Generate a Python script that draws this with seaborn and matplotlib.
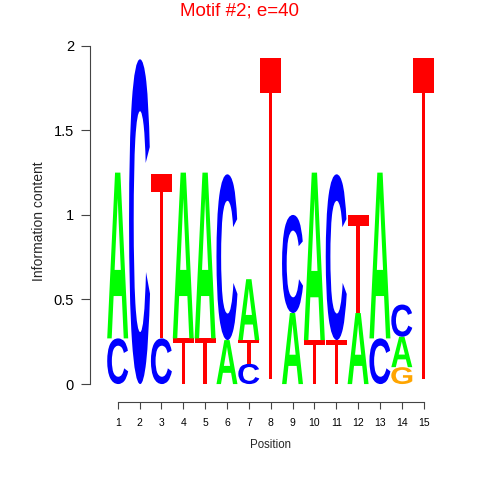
import numpy as np
import pandas as pd
import seaborn as sns
import matplotlib.pyplot as plt
from matplotlib.textpath import TextPath
from matplotlib.patches import PathPatch
from matplotlib.font_manager import FontProperties
from matplotlib.transforms import Affine2D

positions = list(range(1, 16))
height_A = [0.98, 0.00, 0.00, 0.98, 0.98, 0.26, 0.36, 0.01, 0.42, 0.99, 0.00, 0.42, 0.98, 0.18, 0.01]
height_C = [0.27, 1.92, 0.27, 0.00, 0.00, 0.98, 0.12, 0.01, 0.58, 0.00, 0.98, 0.00, 0.27, 0.19, 0.01]
height_G = [0.00, 0.00, 0.00, 0.00, 0.00, 0.00, 0.00, 0.01, 0.00, 0.00, 0.00, 0.00, 0.00, 0.10, 0.01]
height_T = [0.00, 0.00, 0.97, 0.27, 0.27, 0.00, 0.14, 1.90, 0.00, 0.26, 0.26, 0.58, 0.00, 0.00, 1.90]
letter_colors = {"A": "#00FF00", "C": "#0000FF", "G": "#FFA500", "T": "#FF0000"}
y_ticks = [0, 0.5, 1, 1.5, 2]
y_tick_labels = ["0", "0.5", "1", "1.5", "2"]

sns.set_theme(style="ticks")
plt.rcParams["font.family"] = ["Liberation Sans", "DejaVu Sans"]

# Long table, stacked smallest letter at the bottom
df = pd.DataFrame({
    "position": positions * 4,
    "letter": ["A"] * 15 + ["C"] * 15 + ["G"] * 15 + ["T"] * 15,
    "height": height_A + height_C + height_G + height_T,
})
df = df.sort_values(["position", "height"], kind="stable")
df["bottom"] = df.groupby("position")["height"].cumsum() - df["height"]

fig = plt.figure(figsize=(4.8, 4.8), dpi=100)
ax = fig.add_axes([90 / 480, 78 / 480, 361.4 / 480, 362 / 480])

# T in regular weight keeps its bar thin, the round letters look better bold
fonts = {
    "A": FontProperties(family="Liberation Sans", weight="bold"),
    "C": FontProperties(family="Liberation Sans", weight="bold"),
    "G": FontProperties(family="Liberation Sans", weight="bold"),
    "T": FontProperties(family="Liberation Sans"),
}
letter_width = 0.96


def draw_letter(ax, letter, x, bottom, height):
    path = TextPath((0, 0), letter, size=1, prop=fonts[letter])
    ext = path.get_extents()
    tr = (Affine2D()
          .translate(-ext.x0, -ext.y0)
          .scale(letter_width / ext.width, height / ext.height)
          .translate(x - letter_width / 2, bottom))
    patch = PathPatch(tr.transform_path(path), facecolor=letter_colors[letter],
                      edgecolor="none", lw=0)
    ax.add_patch(patch)


for row in df.itertuples():
    if row.height >= 0.02:
        draw_letter(ax, row.letter, row.position, row.bottom, row.height)

ax.set_xlim(-0.267, 16.27)
ax.set_ylim(-0.106, 2.034)
ax.set_xticks(positions)
ax.set_xticklabels([str(p) for p in positions], fontsize=7.5)
ax.set_yticks(y_ticks)
ax.set_yticklabels(y_tick_labels, fontsize=10.5)
ax.tick_params(axis="x", length=5, width=0.8, color="#444444", pad=6.5, labelcolor="black")
ax.tick_params(axis="y", length=6.5, width=0.8, color="#444444", pad=5, labelcolor="black")
sns.despine(ax=ax, trim=True)
for side in ["left", "bottom"]:
    ax.spines[side].set_color("#444444")
    ax.spines[side].set_linewidth(0.8)
ax.grid(False)

ax.set_xlabel("Position", fontsize=8.3)
ax.xaxis.set_label_coords(0.5, -0.102)
ax.set_ylabel("Information content", fontsize=10)
ax.yaxis.set_label_coords(-0.122, 0.5)

fig.text(0.5, 1 - 11 / 480, "Motif #2; e=40", ha="center", va="center",
         color="#FF0000", fontsize=13.5)

fig.savefig("out.png", dpi=100, facecolor="white")
